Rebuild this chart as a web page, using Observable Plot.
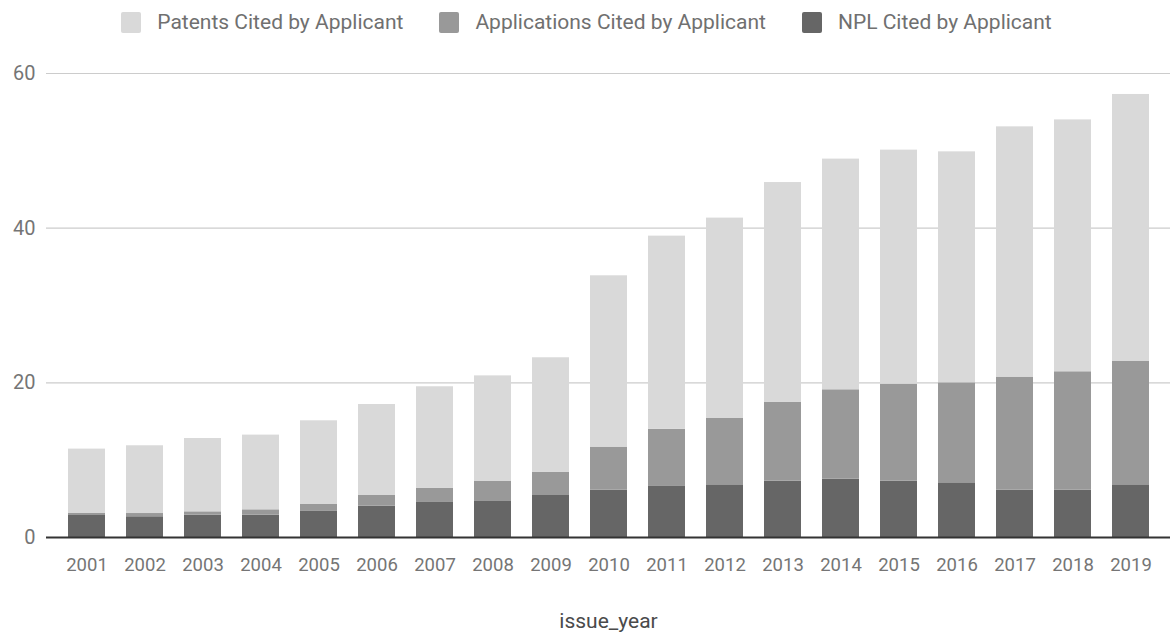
<!DOCTYPE html>
<html>
<head>
<meta charset="utf-8">
<script src="https://cdn.jsdelivr.net/npm/d3@7"></script>
<script src="https://cdn.jsdelivr.net/npm/@observablehq/plot@0.6"></script>
<style>
  html, body { margin: 0; padding: 0; background: #fff; }
  body { width: 1173px; height: 633px; overflow: hidden; font-family: Roboto, "Noto Sans", sans-serif; }
  #legend { height: 44px; display: flex; justify-content: center; align-items: center; box-sizing: border-box; padding-left: 0px; }
  .item { display: flex; align-items: center; margin: 0 18px; font-size: 21px; color: #707070; }
  .sw { width: 20px; height: 21px; border-radius: 2px; margin-right: 16px; }
  #chart svg { display: block; }
</style>
</head>
<body>
<div id="legend"></div>
<div id="chart"></div>
<script>
const years = ["2001","2002","2003","2004","2005","2006","2007","2008","2009","2010","2011","2012","2013","2014","2015","2016","2017","2018","2019"];
const seriesNames = ["NPL Cited by Applicant", "Applications Cited by Applicant", "Patents Cited by Applicant"];
const legendOrder = ["Patents Cited by Applicant", "Applications Cited by Applicant", "NPL Cited by Applicant"];
const seriesColors = ["#666666", "#999999", "#d9d9d9"];
const npl = [2.93, 2.68, 2.89, 2.89, 3.37, 4.05, 4.53, 4.74, 5.43, 6.12, 6.6, 6.81, 7.29, 7.55, 7.29, 7.07, 6.12, 6.12, 6.81];
const applications = [0.22, 0.42, 0.43, 0.69, 0.9, 1.38, 1.85, 2.55, 3.02, 5.57, 7.4, 8.58, 10.21, 11.55, 12.54, 12.93, 14.62, 15.31, 16.0];
const patents = [8.28, 8.76, 9.48, 9.66, 10.82, 11.77, 13.11, 13.61, 14.79, 22.15, 24.97, 25.91, 28.4, 29.83, 30.26, 29.87, 32.36, 32.57, 34.48];
const yTicks = [0, 20, 40, 60];
const xLabel = "issue_year";

const seriesValues = [npl, applications, patents];
const data = [];
seriesNames.forEach((s, i) => {
  years.forEach((y, j) => data.push({ year: y, series: s, value: seriesValues[i][j] }));
});

// legend
const legend = document.getElementById("legend");
legendOrder.forEach(name => {
  const it = document.createElement("div");
  it.className = "item";
  const sw = document.createElement("div");
  sw.className = "sw";
  sw.style.background = seriesColors[seriesNames.indexOf(name)];
  const tx = document.createElement("span");
  tx.textContent = name;
  it.appendChild(sw); it.appendChild(tx);
  legend.appendChild(it);
});

const chart = Plot.plot({
  width: 1173,
  height: 589,
  marginLeft: 46,
  marginRight: 3,
  marginTop: 29,
  marginBottom: 96,
  style: { fontFamily: "Roboto, 'Noto Sans', sans-serif", fontSize: "18.5px", color: "#757575", background: "#fff" },
  x: { type: "band", domain: years, range: [66.7, 1151.4], paddingInner: 0.359, paddingOuter: 0, label: null },
  y: { domain: [0, 60], label: null },
  color: { domain: seriesNames, range: seriesColors },
  marks: [
    Plot.ruleY(yTicks.filter(d => d > 0), { stroke: "#cccccc", strokeWidth: 1.2 }),
    Plot.barY(data, { x: "year", y: "value", fill: "series", order: seriesNames, inset: 0 }),
    Plot.ruleY([0], { stroke: "#333333", strokeWidth: 2 }),
    Plot.axisY({ ticks: yTicks, tickSize: 0, tickPadding: 11, label: null, fill: "#757575", fontSize: 20 }),
    Plot.axisX({ tickSize: 0, tickPadding: 20, label: null, fill: "#757575", fontSize: 18.5 }),
    Plot.text([xLabel], { frameAnchor: "bottom", dy: 90, fontSize: 21, fill: "#4a4a4a" })
  ]
});
document.getElementById("chart").appendChild(chart);
</script>
</body>
</html>
